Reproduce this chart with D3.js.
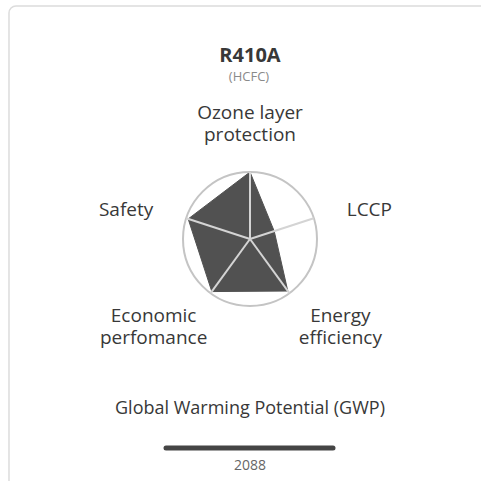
<!DOCTYPE html>
<html lang="en">
<head>
<meta charset="utf-8">
<title>R410A radar</title>
<script src="https://d3js.org/d3.v7.min.js"></script>
<style>
body { margin: 0; background: #fff; }
text { font-family: "Open Sans", "Noto Sans", sans-serif; fill: #383838; }
</style>
</head>
<body>
<div id="chart"></div>
<script>
// data
var title = "R410A";
var subtitle = "(HCFC)";
var axes = [["Ozone layer", "protection"], ["LCCP"], ["Energy", "efficiency"], ["Economic", "perfomance"], ["Safety"]];
var values = [1.0, 0.38, 0.96, 0.97, 0.97];
var gwpLabel = "Global Warming Potential (GWP)";
var gwpValue = 2088;
var gwpMax = 2088;

var W = 481, H = 481;
var cx = 250, cy = 239, R = 67;

var svg = d3.select("#chart").append("svg")
  .attr("width", W).attr("height", H);

// card outline
svg.append("rect")
  .attr("x", 9).attr("y", 6)
  .attr("width", 500).attr("height", 500)
  .attr("rx", 7)
  .style("fill", "none").style("stroke", "#dcdcdc").style("stroke-width", 1.5);

svg.append("text")
  .attr("x", cx).attr("y", 62)
  .attr("text-anchor", "middle")
  .style("font-size", "20px").style("font-weight", "bold")
  .text(title);

svg.append("text")
  .attr("x", cx - 1).attr("y", 81)
  .attr("text-anchor", "middle")
  .style("font-size", "13px").style("fill", "#8a8a8a")
  .text(subtitle);

var r = d3.scaleLinear().domain([0, 1]).range([0, R]);
var angle = d3.scaleLinear().domain([0, axes.length]).range([0, 2 * Math.PI]);

var g = svg.append("g").attr("transform", "translate(" + cx + "," + cy + ")");

var radial = d3.lineRadial()
  .angle(function(d, i) { return angle(i); })
  .radius(function(d) { return r(d); })
  .curve(d3.curveLinearClosed);

g.append("path")
  .datum(values)
  .attr("d", radial)
  .style("fill", "#515151")
  .style("stroke", "#515151")
  .style("stroke-width", 1);

g.append("circle")
  .attr("r", r(1))
  .style("fill", "none")
  .style("stroke", "#c4c4c4")
  .style("stroke-width", 2);

// spokes
g.selectAll(".spoke")
  .data(axes)
  .enter().append("line")
  .attr("class", "spoke")
  .attr("x1", 0).attr("y1", 0)
  .attr("x2", function(d, i) { return r(1) * Math.sin(angle(i)); })
  .attr("y2", function(d, i) { return -r(1) * Math.cos(angle(i)); })
  .style("stroke", "#d4d4d4")
  .style("stroke-width", 2);

// axis labels, placed around the tip of each spoke
var lineH = 22;
function tip(i) {
  return [r(1) * Math.sin(angle(i)), -r(1) * Math.cos(angle(i))];
}
var lab = g.selectAll(".lab")
  .data(axes)
  .enter().append("text")
  .attr("class", "lab")
  .style("font-size", "19px")
  .style("font-weight", 500)
  .attr("text-anchor", function(d, i) {
    var s = Math.sin(angle(i)), c = Math.cos(angle(i));
    if (Math.abs(s) < 0.1 || c < -0.5) return "middle";
    return s > 0 ? "start" : "end";
  })
  .attr("transform", function(d, i) {
    var p = tip(i), s = Math.sin(angle(i)), c = Math.cos(angle(i));
    var x = p[0], y = p[1];
    if (Math.abs(s) < 0.1) { y = y - 31 - (d.length - 1) * lineH; }
    else if (c < -0.5) { x = x + (s > 0 ? 51 : -57); y = y + 29; }
    else { x = x + (s > 0 ? 33 : -33); y = y - 2; }
    return "translate(" + x + "," + y + ")";
  });
lab.selectAll("tspan")
  .data(function(d) { return d; })
  .enter().append("tspan")
  .attr("x", 0)
  .attr("dy", function(d, i) { return i === 0 ? 0 : lineH; })
  .text(function(d) { return d; });

// GWP
svg.append("text")
  .attr("x", cx).attr("y", 414)
  .attr("text-anchor", "middle")
  .style("font-size", "18px")
  .style("font-weight", 500)
  .text(gwpLabel);

var x = d3.scaleLinear().domain([0, gwpMax]).range([166, 333]);
svg.append("line")
  .attr("x1", x(0)).attr("x2", x(gwpValue))
  .attr("y1", 448).attr("y2", 448)
  .style("stroke", "#454545")
  .style("stroke-width", 5)
  .style("stroke-linecap", "round");

svg.append("text")
  .attr("x", cx).attr("y", 470)
  .attr("text-anchor", "middle")
  .style("font-size", "14px").style("fill", "#666")
  .text(gwpValue);
</script>
</body>
</html>
